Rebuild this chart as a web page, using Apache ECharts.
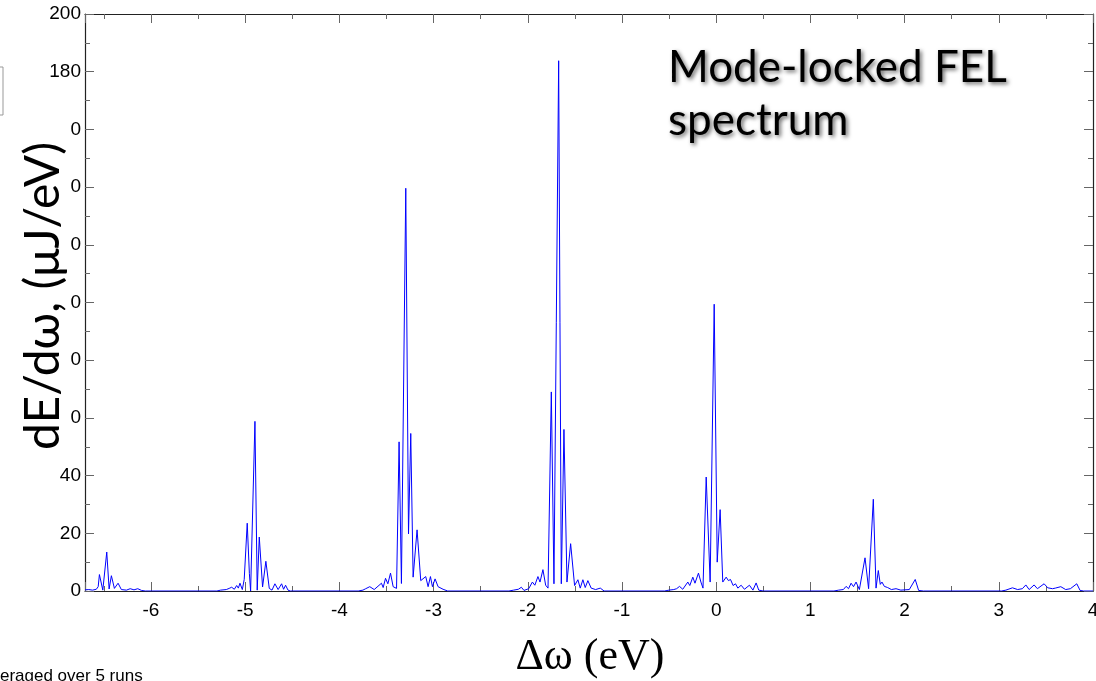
<!DOCTYPE html>
<html>
<head>
<meta charset="utf-8">
<title>Mode-locked FEL spectrum</title>
<script src="https://cdn.jsdelivr.net/npm/echarts@6/dist/echarts.min.js"></script>
<style>
    html, body { margin: 0; padding: 0; background: #fff; }
    #chart { width: 1096px; height: 681px; }
</style>
</head>
<body>
<div id="chart"></div>
<script>
    // spectrum, [delta omega (eV), dE/domega (uJ/eV)]
    var peakMinus65 = [
        [-6.70, 0.4], [-6.66, 0.5], [-6.62, 0.3], [-6.58, 0.6], [-6.56, 1.5], [-6.547, 5.7],
        [-6.511, 0.3], [-6.469, 13.5], [-6.444, 0.7], [-6.420, 5.3], [-6.388, 0.9], [-6.349, 2.7],
        [-6.314, 0.5], [-6.26, 0.3], [-6.22, 0.8], [-6.18, 0.4], [-6.14, 0.8], [-6.10, 0.2], [-6.06, 0]
    ];
    var peakMinus49 = [
        [-5.30, 0], [-5.26, 0.3], [-5.20, 0.5], [-5.17, 0.9], [-5.143, 1.3], [-5.115, 0.6],
        [-5.090, 1.9], [-5.072, 1.0], [-5.055, 2.7], [-5.030, 0.5], [-5.01, 4], [-4.978, 23.5],
        [-4.955, 6], [-4.942, 0], [-4.896, 58.8], [-4.872, 0.3], [-4.850, 18.7], [-4.815, 1.4],
        [-4.780, 10.3], [-4.744, 0.9], [-4.715, 0.3], [-4.684, 2.5], [-4.650, 0.5], [-4.613, 2.5],
        [-4.592, 0.6], [-4.571, 2.0], [-4.545, 0.3], [-4.52, 0]
    ];
    var peakMinus33 = [
        [-3.80, 0], [-3.75, 0.3], [-3.72, 0.8], [-3.70, 0.4], [-3.677, 1.5], [-3.63, 0.5],
        [-3.553, 2.7], [-3.535, 1.2], [-3.510, 4.4], [-3.485, 2.5], [-3.457, 6.2], [-3.429, 1.5],
        [-3.393, 0.9], [-3.366, 51.7], [-3.341, 2.6], [-3.295, 139.6], [-3.266, 19.8],
        [-3.242, 54.6], [-3.217, 4.8], [-3.175, 21.2], [-3.136, 3.6], [-3.083, 5.0], [-3.058, 1.5],
        [-3.033, 5.0], [-3.012, 1.5], [-2.984, 4.2], [-2.952, 1.5], [-2.899, 0.6], [-2.85, 0]
    ];
    var peakMinus17 = [
        [-2.20, 0], [-2.15, 0.3], [-2.10, 0.6], [-2.068, 1.3], [-2.040, 0.2], [-1.990, 0.8],
        [-1.951, 3.1], [-1.925, 2.0], [-1.892, 5.0], [-1.870, 3.1], [-1.839, 7.4], [-1.810, 2.0],
        [-1.785, 1.0], [-1.750, 69], [-1.722, 2.5], [-1.672, 183.8], [-1.644, 2.5], [-1.616, 56],
        [-1.584, 3.1], [-1.545, 16.4], [-1.503, 1.9], [-1.468, 3.9], [-1.443, 1.0], [-1.415, 3.9],
        [-1.390, 1.2], [-1.362, 3.6], [-1.327, 1.0], [-1.28, 0.5], [-1.230, 1.0], [-1.19, 0]
    ];
    var peakZero = [
        [-0.55, 0], [-0.50, 0.3], [-0.45, 0.5], [-0.42, 0.8], [-0.389, 1.6], [-0.355, 0.6],
        [-0.301, 3.1], [-0.280, 1.9], [-0.248, 4.8], [-0.225, 2.7], [-0.188, 6.2], [-0.162, 3.1],
        [-0.140, 1.0], [-0.106, 39.5], [-0.064, 3.1], [-0.021, 99.4], [0.011, 10], [0.042, 28.2],
        [0.070, 3.1], [0.106, 4.8], [0.130, 3.6], [0.152, 4.0], [0.180, 1.9], [0.205, 2.5],
        [0.230, 1.0], [0.265, 2.0], [0.300, 0.6], [0.353, 2.0], [0.390, 0.3], [0.424, 2.8],
        [0.452, 0.3], [0.50, 0]
    ];
    var peakPlus17 = [
        [1.25, 0], [1.30, 0.3], [1.35, 0.5], [1.379, 1.6], [1.405, 0.8], [1.432, 2.7], [1.458, 1.5],
        [1.485, 3.1], [1.520, 0.5], [1.580, 11.5], [1.618, 0.8], [1.668, 31.8], [1.697, 1.0],
        [1.721, 7.1], [1.742, 2.3], [1.760, 3.1], [1.785, 1.6], [1.820, 1.2], [1.860, 0.5],
        [1.909, 0.8], [1.960, 0.3], [2.05, 0.5], [2.113, 4.0], [2.149, 0.2], [2.20, 0]
    ];
    var tailPlus35 = [
        [3.03, 0], [3.075, 0.3], [3.145, 1.1], [3.20, 0.5], [3.25, 0.8], [3.287, 2.1], [3.322, 0.5],
        [3.375, 2.1], [3.410, 0.8], [3.481, 2.5], [3.52, 1.1], [3.57, 0.8], [3.60, 1.0], [3.658, 1.5],
        [3.71, 0.5], [3.76, 0.8], [3.828, 2.5], [3.863, 0.2], [3.90, 0], [4.0, 0]
    ];

    var spectrum = [].concat(peakMinus65, peakMinus49, peakMinus33, peakMinus17,
        peakZero, peakPlus17, tailPlus35);

    var tickFont = 'Liberation Sans, Arial, sans-serif';
    var slideFont = 'Lato, sans-serif';

    function xAxisCfg(pos, labels) {
        return {
            type: 'value',
            position: pos,
            min: -6.7,
            max: 4,
            minInterval: 1,
            maxInterval: 1,
            axisLine: { onZero: false, lineStyle: { color: '#222', width: 1.2 } },
            axisTick: { inside: true, length: 9, lineStyle: { color: '#666' } },
            minorTick: { show: true, splitNumber: 2, length: 5, lineStyle: { color: '#666' } },
            splitLine: { show: false },
            axisLabel: {
                show: labels,
                showMinLabel: false,
                margin: 10,
                color: '#000',
                fontFamily: tickFont,
                fontSize: 19
            }
        };
    }

    function yAxisCfg(pos, labels) {
        return {
            type: 'value',
            position: pos,
            min: 0,
            max: 200,
            interval: 20,
            axisLine: { show: true, onZero: false, lineStyle: { color: '#222', width: 1.2 } },
            axisTick: { show: true, inside: true, length: 9, lineStyle: { color: '#666' } },
            minorTick: { show: true, splitNumber: 2, length: 5, lineStyle: { color: '#666' } },
            splitLine: { show: false },
            axisLabel: {
                show: labels,
                margin: 4,
                color: '#000',
                fontFamily: tickFont,
                fontSize: 19
            }
        };
    }

    var myChart = echarts.init(document.getElementById('chart'));
    var option = {
        backgroundColor: '#fff',
        animation: false,
        grid: { left: 85, right: 3, top: 14, bottom: 90, outerBoundsMode: 'none', containLabel: false },
        xAxis: [xAxisCfg('bottom', true), xAxisCfg('top', false)],
        yAxis: [yAxisCfg('left', true), yAxisCfg('right', false)],
        series: [{
            type: 'line',
            xAxisIndex: 0,
            yAxisIndex: 0,
            data: spectrum,
            showSymbol: false,
            lineStyle: { color: '#0000ff', width: 1 },
            z: 3
        }],
        graphic: [
            // slide overlay hides most of the y tick labels
            { type: 'rect', z: 100, shape: { x: 0, y: 118, width: 70, height: 345 }, style: { fill: '#fff' } },
            { type: 'rect', z: 100, shape: { x: -10, y: 67, width: 13, height: 48 }, style: { fill: 'none', stroke: '#999', lineWidth: 1 } },
            {
                type: 'text', z: 101, x: 44, y: 296, rotation: Math.PI / 2,
                style: {
                    text: 'dE/d\u03c9, (\u03bcJ/eV)', font: '48px ' + slideFont, fill: '#000',
                    textAlign: 'center', textVerticalAlign: 'middle'
                }
            },
            {
                type: 'text', z: 101, x: 590, y: 657,
                style: {
                    text: '\u0394\u03c9 (eV)', font: '44px Liberation Serif, Times New Roman, serif', fill: '#000',
                    textAlign: 'center', textVerticalAlign: 'middle'
                }
            },
            {
                type: 'text', z: 101, x: 668, y: 41,
                style: {
                    text: 'Mode-locked FEL\nspectrum', font: '44px ' + slideFont, fill: '#000',
                    lineHeight: 53, textAlign: 'left', textVerticalAlign: 'top',
                    textShadowColor: 'rgba(0,0,0,0.6)', textShadowBlur: 4,
                    textShadowOffsetX: 2, textShadowOffsetY: 2
                }
            },
            {
                type: 'text', z: 101, x: -18, y: 676,
                style: {
                    text: 'averaged over 5 runs', font: '17px ' + tickFont, fill: '#000',
                    textAlign: 'left', textVerticalAlign: 'middle'
                }
            }
        ]
    };
    myChart.setOption(option);
</script>
</body>
</html>
